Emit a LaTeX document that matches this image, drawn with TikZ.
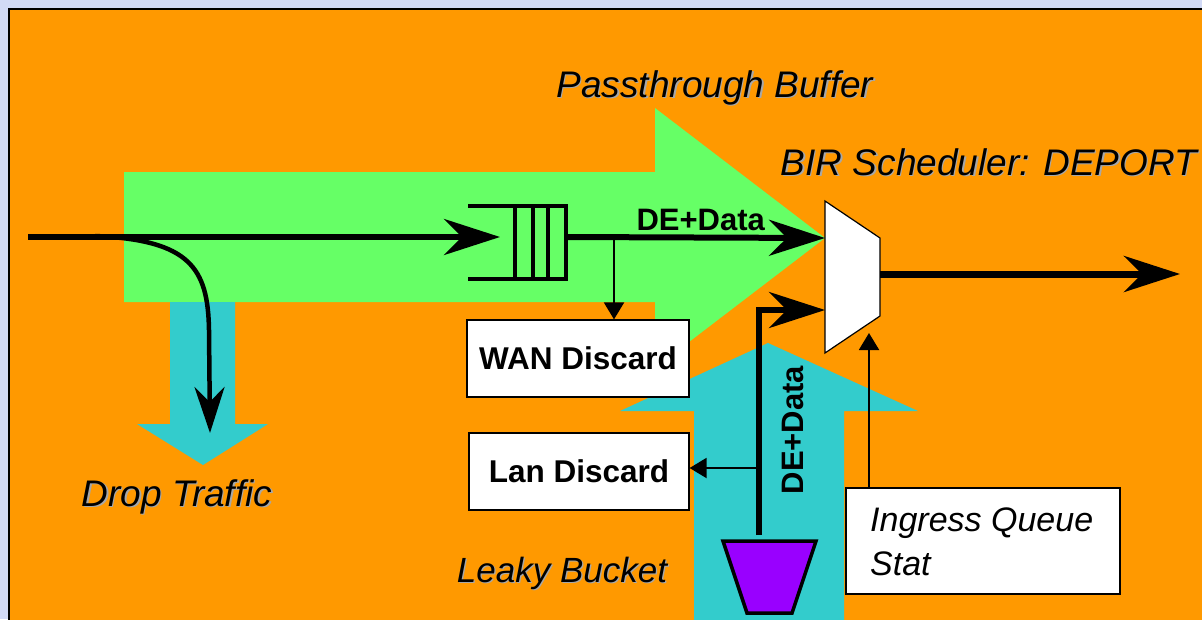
\documentclass[tikz,border=0pt]{standalone}
\usepackage{fontspec}
\setmainfont{Liberation Sans}
\usetikzlibrary{arrows.meta,calc}
\definecolor{bgblue}{HTML}{D2DAF6}
\definecolor{orng}{HTML}{FF9900}
\definecolor{grn}{HTML}{66FF66}
\definecolor{cyn}{HTML}{33CCCC}
\definecolor{purp}{HTML}{9900FF}
\definecolor{shad}{HTML}{A8A8A8}
\tikzset{
  bigtip/.style={-{Stealth[length=56pt,width=36pt,inset=18pt]}},
  thintip/.style={-{Triangle[length=17pt,width=20pt]}},
  thickline/.style={line width=6pt},
  thinline/.style={line width=2pt},
  ital/.style={font=\fontsize{37}{44}\selectfont\itshape, inner sep=0pt},
  boxlbl/.style={draw=black, line width=1.2pt, fill=white, font=\fontsize{31.5}{38}\selectfont\bfseries, inner sep=0pt},
  boldlbl/.style={font=\fontsize{31}{37}\selectfont\bfseries, inner sep=0pt},
}
\newcommand{\shadowed}[4]{%
  \node[ital, #4, text=shad] at ($(#1)+(1.3,1.3)$) {#3};
  \node[ital, #4] (#2) at (#1) {#3};}
\begin{document}
\begin{tikzpicture}[x=1pt,y=-1pt]
\useasboundingbox (0,0) rectangle (1202,619);
\clip (0,0) rectangle (1202,619);
% background
\fill[bgblue] (0,0) rectangle (1202,619);
\draw[fill=orng, line width=2pt] (9,9) rectangle (1220,640);
% green passthrough arrow
\fill[grn] (124,172) -- (655,172) -- (655,108) -- (825,238) -- (655,368) -- (655,302) -- (124,302) -- cycle;
% cyan drop arrow
\fill[cyn] (170,302) -- (235,302) -- (235,424) -- (268,424) -- (203,465) -- (137,424) -- (170,424) -- cycle;
% cyan leaky bucket arrow
\fill[cyn] (694,640) -- (694,411) -- (620,411) -- (768,343) -- (918,411) -- (844,411) -- (844,640) -- cycle;
% labels with shadow
\shadowed{715,88}{pb}{Passthrough Buffer}{}
\shadowed{989,162}{bir}{BIR Scheduler: DEPORT}{}
\shadowed{177,497}{drop}{Drop Traffic}{}
\shadowed{562,573}{leaky}{Leaky Bucket}{font=\fontsize{35}{42}\selectfont\itshape}
% queue
\coordinate (qin) at (500,237);
\coordinate (qout) at (566,237);
\draw[line width=4pt] (468,206) -- (566,206) -- (566,279) -- (468,279);
\draw[line width=4pt] (515,206) -- (515,279) (533,206) -- (533,279) (548,206) -- (548,279);
% scheduler
\draw[fill=white, line width=1.2pt] (825,201) -- (880,238) -- (880,316) -- (825,353) -- cycle;
\coordinate (sin1) at (825,238);
\coordinate (sin2) at (825,310);
\coordinate (sout) at (880,274);
\coordinate (sbot) at (869,333);
\coordinate (outend) at (1180,274);
\coordinate (start) at (28,237);
% bucket
\draw[fill=purp, line width=3.5pt] (723,541) -- (816,541) -- (792,613) -- (747,613) -- cycle;
\coordinate (btop) at (759,535);
% boxes
\node[boxlbl, minimum width=222pt, minimum height=77pt] (wan) at (578,358.5) {WAN Discard};
\node[boxlbl, minimum width=220pt, minimum height=77pt] (lan) at (579,471.5) {Lan Discard};
\node[draw=black, line width=1.2pt, fill=white, minimum width=274pt, minimum height=106pt, inner sep=0pt] (ing) at (983,541) {};
\node[anchor=west, font=\fontsize{34}{41}\selectfont\itshape, inner sep=0pt, align=left] (ingt) at (870,542) {Ingress Queue\\[3pt]Stat};
% main flow
\draw[thickline, bigtip] (start) -- (qin);
\draw[thickline, bigtip] (qout) -- node[boldlbl, above=4pt, pos=0.52] (de1) {DE+Data} (sin1);
\draw[line width=7pt, bigtip] (sout) -- (outend);
% drop curve
\draw[line width=4.5pt, -{Stealth[length=46pt,width=30pt,inset=15pt]}] (95,236) .. controls (190,240) and (208,268) .. (209,330) -- (210,433);
% wan discard arrow
\coordinate (wsplit) at (614,237);
\draw[thinline, thintip] (wsplit) -- (wan.north -| wsplit);
% second input
\draw[thickline, bigtip] (btop) -- (759,310) -- (sin2);
\node[boldlbl, rotate=90] (de2) at (793,430) {DE+Data};
% lan arrow
\coordinate (lsplit) at (758,468);
\draw[thinline, thintip] (lsplit) -- (lan.east |- lsplit);
% ingress arrow
\draw[thinline, thintip] (ing.north -| sbot) -- (sbot);
\end{tikzpicture}
\end{document}
